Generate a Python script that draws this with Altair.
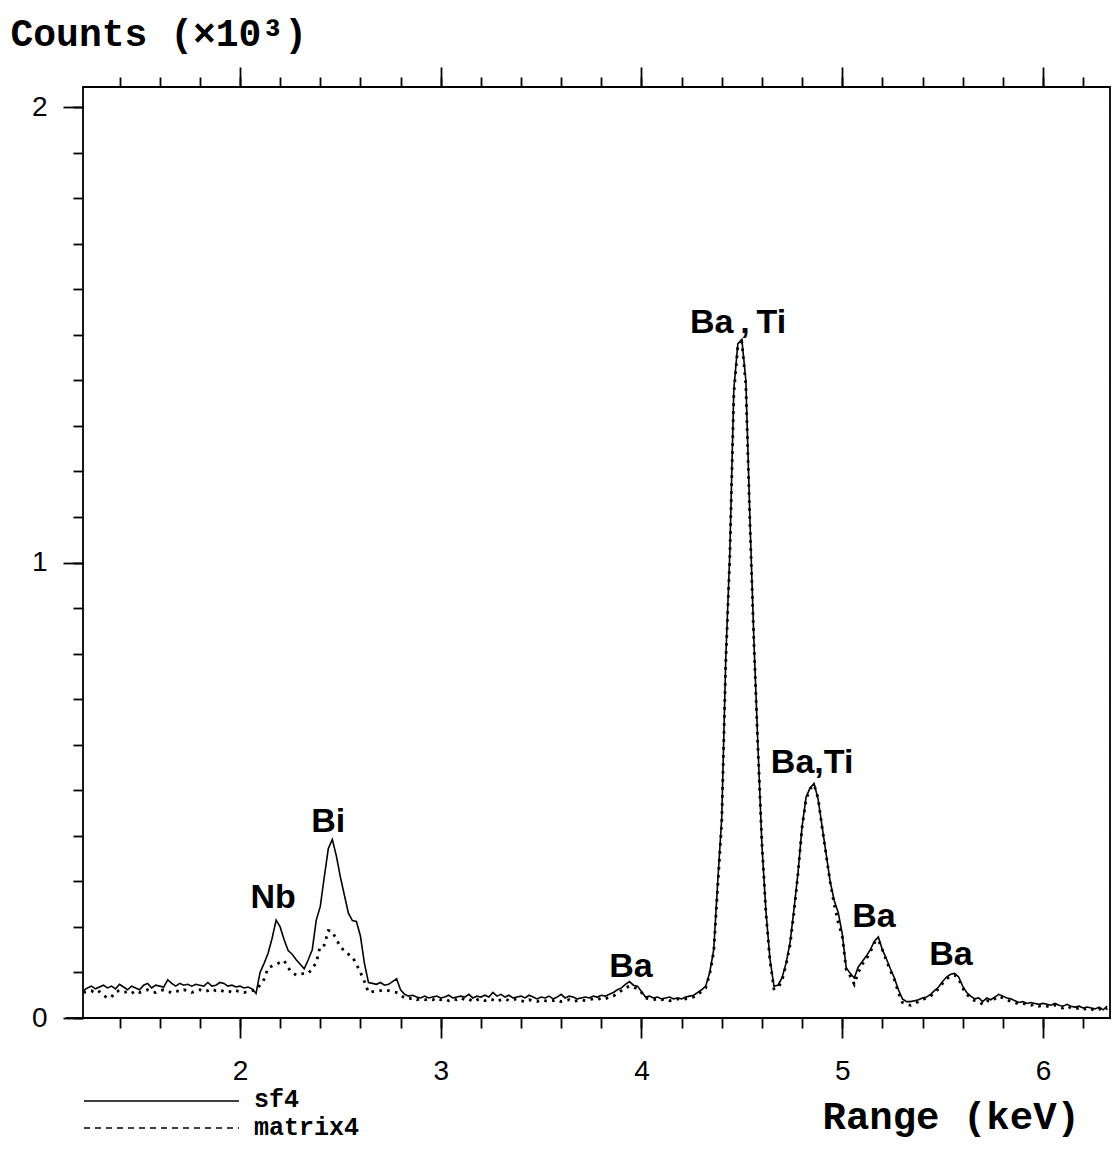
import altair as alt
import pandas as pd

# ---------------- data ----------------
KEV0 = 1.22
STEP = 0.02

sf4 = [
    60, 66, 70, 64, 68, 72, 66, 70, 64, 74,        # 1.22-1.40
    68, 62, 70, 66, 62, 72, 76, 66, 72, 70,        # 1.42-1.60
    68, 84, 76, 70, 76, 72, 74, 70, 74, 72,        # 1.62-1.80
    70, 78, 70, 72, 78, 76, 70, 72, 68, 70,        # 1.82-2.00
    66, 68, 64, 54, 100, 120, 142, 175, 215, 200,  # 2.02-2.20
    172, 148, 140, 128, 118, 108, 128, 150, 215, 245,  # 2.22-2.40
    310, 372, 392, 356, 310, 270, 230, 214, 212, 180,  # 2.42-2.60
    120, 78, 76, 74, 78, 72, 74, 80, 86, 62,       # 2.62-2.80
    52, 48, 50, 46, 44, 48, 44, 46, 48, 44,        # 2.82-3.00
    46, 50, 44, 46, 48, 46, 52, 44, 48, 46,        # 3.02-3.20
    50, 46, 56, 48, 52, 46, 50, 44, 46, 48,        # 3.22-3.40
    44, 50, 46, 42, 46, 44, 48, 42, 46, 52,        # 3.42-3.60
    44, 48, 46, 42, 44, 46, 44, 48, 46, 50,        # 3.62-3.80
    48, 52, 56, 62, 66, 74, 80, 72, 70, 58,        # 3.82-4.00
    46, 48, 44, 46, 42, 44, 46, 42, 44, 42,        # 4.02-4.20
    46, 48, 50, 56, 62, 70, 100, 150, 300, 440,    # 4.22-4.40
    790, 1020, 1380, 1480, 1490, 1400, 1100, 830, 600, 380,  # 4.42-4.60
    235, 130, 70, 72, 88, 120, 165, 240, 320, 420,  # 4.62-4.80
    485, 505, 515, 480, 420, 360, 300, 258, 232, 185,  # 4.82-5.00
    110, 98, 88, 112, 124, 136, 150, 168, 178, 150,  # 5.02-5.20
    130, 108, 88, 62, 42, 36, 36, 38, 40, 44,      # 5.22-5.40
    46, 52, 60, 68, 80, 90, 96, 98, 90, 70,        # 5.42-5.60
    56, 48, 42, 44, 36, 44, 40, 46, 52, 48,        # 5.62-5.80
    44, 42, 38, 34, 36, 32, 34, 32, 30, 32,        # 5.82-6.00
    30, 28, 32, 28, 26, 30, 26, 24, 26, 22,        # 6.02-6.20
    24, 22, 20, 24, 18, 26,                        # 6.22-6.32
]

matrix4 = [
    56, 58, 60, 54, 58, 50, 44, 46, 58, 60,
    56, 58, 54, 60, 56, 58, 62, 58, 56, 60,
    62, 58, 56, 60, 58, 62, 60, 56, 60, 62,
    58, 60, 64, 60, 62, 58, 60, 56, 60, 58,
    56, 58, 60, 62, 72, 85, 110, 114, 118, 122,
    126, 110, 100, 94, 96, 98, 98, 108, 122, 158,
    160, 192, 190, 172, 158, 146, 140, 134, 118, 100,
    80, 56, 58, 58, 60, 62, 60, 58, 56, 50,
    44, 42, 44, 40, 42, 40, 42, 40, 44, 40,
    42, 38, 42, 40, 44, 40, 42, 36, 40, 42,
    38, 42, 40, 36, 40, 42, 38, 40, 42, 38,
    36, 40, 38, 36, 40, 38, 36, 38, 40, 36,
    38, 40, 36, 38, 40, 38, 40, 42, 40, 44,
    42, 46, 48, 54, 60, 66, 70, 68, 64, 56,
    44, 42, 40, 42, 40, 42, 38, 40, 42, 40,
    42, 44, 46, 52, 58, 66, 96, 145, 290, 430,
    780, 1010, 1370, 1475, 1484, 1390, 1090, 825, 595, 385,
    230, 126, 64, 66, 82, 116, 160, 232, 318, 418,
    480, 503, 512, 482, 418, 358, 298, 250, 210, 180,
    106, 92, 74, 100, 118, 130, 145, 165, 172, 150,
    126, 104, 84, 56, 34, 30, 28, 32, 36, 40,
    44, 48, 56, 64, 76, 86, 92, 94, 86, 66,
    52, 44, 38, 36, 30, 38, 36, 42, 48, 44,
    40, 36, 34, 30, 32, 30, 28, 30, 26, 28,
    26, 24, 28, 24, 22, 26, 22, 20, 22, 18,
    22, 20, 16, 20, 16, 22,
]

kev = [round(KEV0 + STEP * i, 2) for i in range(len(sf4))]

peak_labels = ["Nb", "Bi", "Ba\u2009,\u2009Ti", "Ba,Ti", "Ba", "Ba", "Ba"]
peak_kev = [2.165, 2.44, 4.481, 4.85, 3.948, 5.158, 5.542]
peak_counts = [241, 408, 1504, 538, 90, 200, 116]

x_major = [2, 3, 4, 5, 6]
x_minor = [round(1.4 + 0.2 * i, 1) for i in range(25)]
y_major = [0, 1000, 2000]
y_minor = list(range(0, 2001, 100))
legend_names = ["sf4", "matrix4"]

# ---------------- chart ----------------
W, H = 1027, 931
SANS = "Liberation Sans"
MONO = "Liberation Mono"

xs = alt.Scale(domain=[1.218, 6.334], nice=False, zero=False)
ys = alt.Scale(domain=[0, 2044], nice=False, zero=False)

df_sf = pd.DataFrame({"kev": kev, "counts": sf4})
df_mx = pd.DataFrame({"kev": kev, "counts": matrix4})
df_lab = pd.DataFrame({"label": peak_labels, "kev": peak_kev, "counts": peak_counts})
df_leg = pd.DataFrame({"name": legend_names})

tick_style = dict(domain=False, grid=False, tickColor="black", tickWidth=1.8,
                  labelColor="black", labelFont=SANS, labelFontSize=28)

x_axis_major = alt.Axis(orient="bottom", values=x_major, tickSize=20, labelPadding=19,
                        title="Range (keV)", titleFont=MONO, titleFontSize=39,
                        titleFontWeight="bold", titleColor="black", titleX=739, titleY=110,
                        titleAlign="left", titleBaseline="alphabetic", **tick_style)
x_axis_minor = alt.Axis(orient="bottom", values=x_minor, tickSize=10, labels=False,
                        title=None, **tick_style)
x_axis_top_minor = alt.Axis(orient="top", values=x_minor, tickSize=10, labels=False,
                            title=None, **tick_style)
x_axis_top_major = alt.Axis(orient="top", values=x_major, tickSize=20, labels=False,
                            title=None, **tick_style)

y_axis_major = alt.Axis(orient="left", values=y_major, tickSize=20, labelPadding=16,
                        labelExpr="'' + datum.value / 1000",
                        title="Counts (\u00d710\u00b3)", titleFont=MONO, titleFontSize=38,
                        titleFontWeight="bold", titleColor="black", titleAngle=0,
                        titleX=-73, titleY=-42, titleAlign="left",
                        titleBaseline="alphabetic", **tick_style)
y_axis_minor = alt.Axis(orient="left", values=y_minor, tickSize=10, labels=False,
                        title=None, **tick_style)
y_axis_right = alt.Axis(orient="right", values=y_minor, tickSize=9, labels=False,
                        title=None, **tick_style)

mx_line = alt.Chart(df_mx).mark_line(color="black", strokeWidth=2.8,
                                     strokeDash=[2.6, 5.4]).encode(
    x=alt.X("kev:Q", scale=xs, axis=x_axis_minor),
    y=alt.Y("counts:Q", scale=ys, axis=y_axis_minor),
)

sf_line = alt.Chart(df_sf).mark_line(color="black", strokeWidth=1.6).encode(
    x=alt.X("kev:Q", scale=xs, axis=x_axis_major),
    y=alt.Y("counts:Q", scale=ys, axis=y_axis_major),
)

labels = alt.Chart(df_lab).mark_text(font=SANS, fontSize=34, fontWeight="bold",
                                     align="center", baseline="alphabetic",
                                     color="black").encode(
    x=alt.X("kev:Q", scale=xs, axis=x_axis_top_minor),
    y=alt.Y("counts:Q", scale=ys, axis=y_axis_right),
    text="label:N",
)

top_major = alt.Chart(df_lab).mark_point(opacity=0).encode(
    x=alt.X("kev:Q", scale=xs, axis=x_axis_top_major),
    y=alt.Y("counts:Q", scale=ys, axis=None),
)

axis_ext = alt.Chart(df_leg.iloc[[0]]).mark_rule(color="black", strokeWidth=1.8).encode(
    x=alt.value(-17), x2=alt.value(0), y=alt.value(H)
)

leg_solid = alt.Chart(df_leg.iloc[[0]]).mark_rule(color="black", strokeWidth=1.6).encode(
    x=alt.value(1), x2=alt.value(156), y=alt.value(1014)
)
leg_dash = alt.Chart(df_leg.iloc[[1]]).mark_rule(color="black", strokeWidth=1.6,
                                                 strokeDash=[6, 5]).encode(
    x=alt.value(1), x2=alt.value(156), y=alt.value(1041)
)
leg_text1 = alt.Chart(df_leg.iloc[[0]]).mark_text(font=MONO, fontSize=25, fontWeight="bold",
                                                  align="left", baseline="alphabetic",
                                                  color="black").encode(
    x=alt.value(171), y=alt.value(1020), text="name:N"
)
leg_text2 = alt.Chart(df_leg.iloc[[1]]).mark_text(font=MONO, fontSize=25, fontWeight="bold",
                                                  align="left", baseline="alphabetic",
                                                  color="black").encode(
    x=alt.value(171), y=alt.value(1048), text="name:N"
)

chart = alt.layer(
    mx_line, sf_line, labels, top_major, axis_ext,
    leg_solid, leg_dash, leg_text1, leg_text2,
).resolve_axis(
    x="independent", y="independent"
).properties(
    width=W, height=H,
    padding={"left": 75, "top": 79, "right": 1, "bottom": 125},
    autosize=alt.AutoSizeParams(type="none"),
    background="white",
).configure_view(
    stroke="black", strokeWidth=1.8
)

chart.save("out.html", embed_options={"renderer": "svg", "actions": False})
